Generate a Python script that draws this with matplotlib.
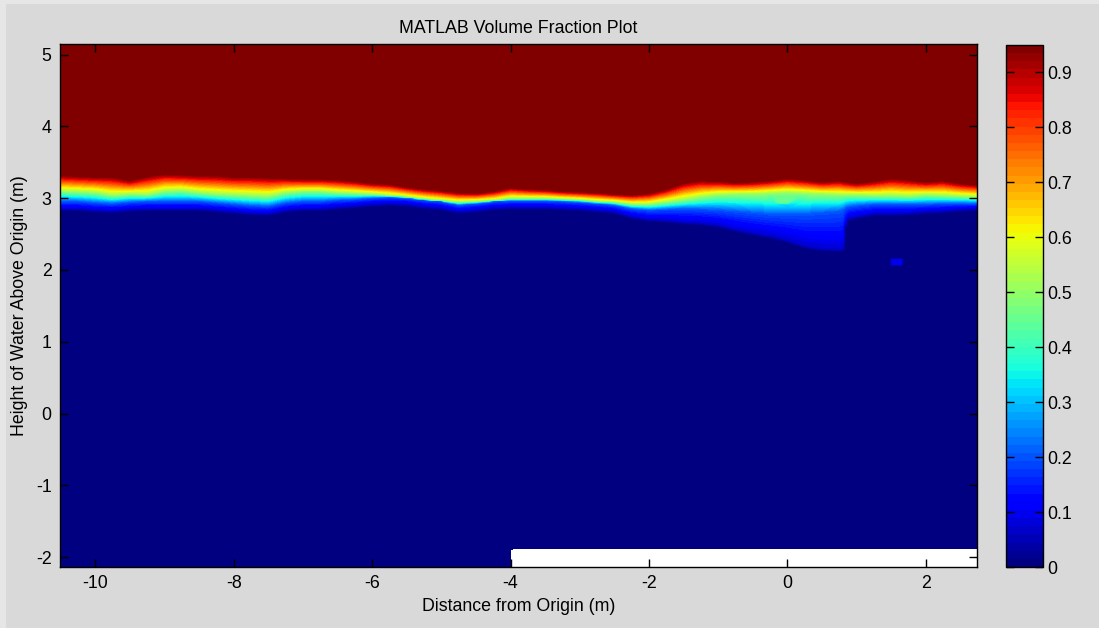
import numpy as np
import matplotlib
matplotlib.use("Agg")
import matplotlib.pyplot as plt
from matplotlib.patches import Rectangle

plt.rcParams['font.family'] = ['Liberation Sans', 'DejaVu Sans']
plt.rcParams['axes.unicode_minus'] = False

# Free-surface profile sampled along the channel (m)
x_samples = [-10.5, -10.25, -10.0, -9.75, -9.5, -9.25, -9.0, -8.75, -8.5, -8.25,
             -8.0, -7.75, -7.5, -7.25, -7.0, -6.75, -6.5, -6.25, -6.0, -5.75,
             -5.5, -5.25, -5.0, -4.75, -4.5, -4.25, -4.0, -3.75, -3.5, -3.25,
             -3.0, -2.75, -2.5, -2.25, -2.0, -1.75, -1.5, -1.25, -1.0, -0.75,
             -0.5, -0.25, 0.0, 0.25, 0.5, 0.75, 0.8, 0.85, 1.0, 1.25,
             1.5, 1.75, 2.0, 2.25, 2.5, 2.75, 3.0]
# height where the fraction reaches 0.95
h_top = [3.32, 3.31, 3.30, 3.30, 3.25, 3.31, 3.34, 3.33, 3.32, 3.32,
         3.30, 3.30, 3.29, 3.28, 3.27, 3.27, 3.26, 3.24, 3.21, 3.20,
         3.16, 3.13, 3.11, 3.08, 3.07, 3.10, 3.15, 3.13, 3.12, 3.10,
         3.09, 3.08, 3.06, 3.05, 3.07, 3.13, 3.22, 3.25, 3.24, 3.22,
         3.23, 3.25, 3.28, 3.26, 3.23, 3.25, 3.24, 3.23, 3.21, 3.24,
         3.28, 3.26, 3.23, 3.25, 3.21, 3.19, 3.19]
# height of the 0.5 contour
h_mid = [3.10, 3.09, 3.08, 3.04, 3.06, 3.05, 3.10, 3.11, 3.08, 3.06,
         3.05, 3.04, 3.03, 3.08, 3.10, 3.10, 3.08, 3.07, 3.06, 3.04,
         3.02, 2.99, 2.97, 2.95, 2.96, 2.97, 3.00, 3.00, 3.00, 2.99,
         2.98, 2.96, 2.95, 2.92, 2.92, 2.95, 2.98, 3.02, 3.05, 3.06,
         3.06, 3.07, 3.08, 3.07, 3.06, 3.05, 3.05, 3.05, 3.05, 3.04,
         3.04, 3.03, 3.05, 3.04, 3.03, 3.02, 3.02]
# height of the 0.2 contour
h_low = [2.96, 2.96, 2.94, 2.93, 2.95, 2.96, 2.96, 2.96, 2.96, 2.94,
         2.92, 2.90, 2.89, 2.94, 2.96, 2.96, 2.98, 2.99, 3.01, 3.02,
         3.01, 2.98, 2.96, 2.91, 2.93, 2.96, 2.97, 2.97, 2.97, 2.96,
         2.95, 2.93, 2.91, 2.86, 2.84, 2.85, 2.86, 2.85, 2.84, 2.82,
         2.80, 2.78, 2.78, 2.78, 2.80, 2.82, 2.84, 2.88, 2.90, 2.92,
         2.92, 2.92, 2.92, 2.93, 2.93, 2.93, 2.93]
# depth reached by entrained air, below which it is water
h_base = [2.86, 2.86, 2.84, 2.83, 2.85, 2.86, 2.86, 2.86, 2.86, 2.84,
          2.82, 2.80, 2.79, 2.84, 2.86, 2.86, 2.88, 2.90, 2.92, 2.93,
          2.92, 2.89, 2.87, 2.82, 2.84, 2.87, 2.88, 2.88, 2.88, 2.87,
          2.86, 2.84, 2.82, 2.75, 2.71, 2.70, 2.67, 2.66, 2.63, 2.57,
          2.52, 2.48, 2.42, 2.34, 2.30, 2.29, 2.30, 2.72, 2.75, 2.79,
          2.79, 2.80, 2.82, 2.83, 2.85, 2.86, 2.86]
base_frac = 0.07

# Isolated pockets: centre x, centre y, half-width, half-height, fraction
patch_x = [-0.05, 1.58]
patch_y = [3.00, 2.11]
patch_rx = [0.14, 0.10]
patch_ry = [0.07, 0.05]
patch_val = [0.45, 0.10]

mask_x0, mask_y1 = -4.0, -1.89       # cells without data near the outlet

cbar_ticks = [0, 0.1, 0.2, 0.3, 0.4, 0.5, 0.6, 0.7, 0.8, 0.9]
cbar_labels = ['0', '0.1', '0.2', '0.3', '0.4', '0.5', '0.6', '0.7', '0.8', '0.9']
xticks = [-10, -8, -6, -4, -2, 0, 2]
yticks = [-2, -1, 0, 1, 2, 3, 4, 5]

# ---- volume fraction field on a regular grid ----
gx = np.arange(-10.6, 2.85, 0.04)
gy = np.arange(-2.2, 5.25, 0.02)
X, Y = np.meshgrid(gx, gy)
top = np.interp(gx, x_samples, h_top)[None, :]
mid = np.interp(gx, x_samples, h_mid)[None, :]
low = np.interp(gx, x_samples, h_low)[None, :]
base = np.interp(gx, x_samples, h_base)[None, :]

F = np.zeros_like(X)
edge = (Y >= base - 0.04) & (Y < base)
F = np.where(edge, base_frac * (Y - (base - 0.04)) / 0.04, F)
seg = (Y >= base) & (Y < low)
F = np.where(seg, base_frac + (0.20 - base_frac) * (Y - base)
             / np.maximum(low - base, 1e-6), F)
seg = (Y >= low) & (Y < mid)
F = np.where(seg, 0.20 + 0.30 * (Y - low) / (mid - low), F)
seg = (Y >= mid) & (Y < top)
F = np.where(seg, 0.50 + 0.45 * (Y - mid) / (top - mid), F)
F = np.where(Y >= top, 0.95, F)

for px, py, rx, ry, v in zip(patch_x, patch_y, patch_rx, patch_ry, patch_val):
    d = ((X - px) / rx) ** 2 + ((Y - py) / ry) ** 2
    F = np.where(d <= 1.0, np.maximum(F, v), F)

F = np.where((X >= mask_x0) & (Y < mask_y1), np.nan, F)

# ---- figure ----
W, H = 1099, 628
fig = plt.figure(figsize=(W / 100, H / 100), dpi=100, facecolor='#d9d9d9')
fig.patches.append(Rectangle((0, 0), 1, 1, transform=fig.transFigure,
                             facecolor='#e6e6e6', edgecolor='none', zorder=-2))
fig.patches.append(Rectangle((6 / W, 0), 1, 1 - 4 / H, transform=fig.transFigure,
                             facecolor='#d9d9d9', edgecolor='none', zorder=-1))

ax = fig.add_axes([60 / W, (H - 567) / H, (977 - 60) / W, (567 - 44) / H])
cax = fig.add_axes([1006 / W, (H - 567) / H, (1043 - 1006) / W, (567 - 45) / H])
ax.set_facecolor('white')

cmap = plt.get_cmap('jet', 64)
levels = np.linspace(0, 0.95, 65)
cs = ax.contourf(X, Y, F, levels=levels, cmap=cmap, vmin=0, vmax=0.95)

fs = 12.8
ax.set_xlim(-10.51, 2.74)
ax.set_ylim(-2.138, 5.148)
ax.set_xticks(xticks)
ax.set_yticks(yticks)
ax.tick_params(direction='in', length=6, width=1, top=True, right=True,
               labelsize=fs, pad=6, colors='black')
for s in ax.spines.values():
    s.set_linewidth(1.0)

ax.set_title('MATLAB Volume Fraction Plot', fontsize=fs, pad=8)
ax.set_xlabel('Distance from Origin (m)', fontsize=fs, labelpad=4)
ax.set_ylabel('Height of Water Above Origin (m)', fontsize=fs, labelpad=6)

cb = fig.colorbar(cs, cax=cax, ticks=cbar_ticks)
cb.ax.set_yticklabels(cbar_labels)
cb.ax.tick_params(direction='in', length=6, width=1, left=True, right=True,
                  labelsize=fs, pad=3)
cb.outline.set_linewidth(1.0)

fig.savefig('out.png', dpi=100, facecolor=fig.get_facecolor())
